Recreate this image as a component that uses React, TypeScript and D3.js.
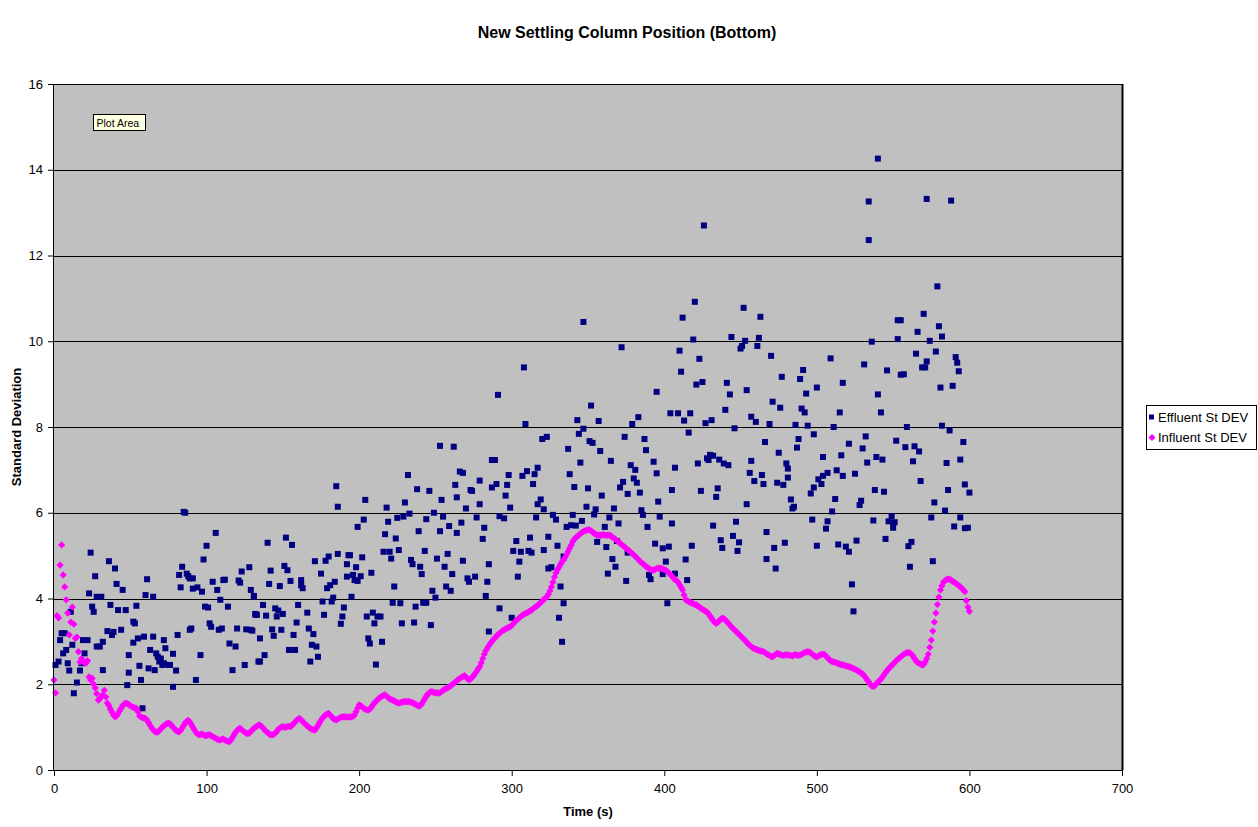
import { useRef, useEffect } from "react";
import * as d3 from "d3";

const chartTitle = "New Settling Column Position (Bottom)";
const xLabel = "Time (s)";
const yLabel = "Standard Deviation";
const seriesNames = ["Effluent St DEV", "Influent St DEV"];
const xTicks = [0, 100, 200, 300, 400, 500, 600, 700];
const yTicks = [0, 2, 4, 6, 8, 10, 12, 14, 16];

// influent st dev, one reading per second starting at t = 0
const influent = [
  2.1, 1.8, 3.6, 3.55, 4.78, 5.25, 4.55, 4.27, 3.97, 3.66,
  3.15, 3.45, 3.8, 3.4, 3.07, 3.1, 2.76, 2.52, 2.6, 2.56,
  2.5, 2.49, 2.55, 2.17, 2.1, 2.14, 2.0, 1.91, 1.78, 1.63,
  1.66, 1.7, 1.75, 1.86, 1.7, 1.56, 1.5, 1.42, 1.35, 1.28,
  1.24, 1.26, 1.32, 1.38, 1.44, 1.5, 1.54, 1.56, 1.55, 1.53,
  1.5, 1.48, 1.46, 1.45, 1.44, 1.36, 1.26, 1.24, 1.22, 1.21,
  1.2, 1.16, 1.1, 1.04, 0.98, 0.94, 0.9, 0.88, 0.88, 0.92,
  0.96, 1.0, 1.03, 1.06, 1.08, 1.09, 1.08, 1.04, 1.0, 0.96,
  0.92, 0.9, 0.89, 0.92, 0.98, 1.04, 1.1, 1.14, 1.16, 1.12,
  1.06, 1.0, 0.94, 0.88, 0.84, 0.82, 0.83, 0.84, 0.82, 0.8,
  0.8, 0.82, 0.82, 0.8, 0.78, 0.76, 0.74, 0.72, 0.7, 0.7,
  0.72, 0.72, 0.7, 0.68, 0.67, 0.66, 0.7, 0.76, 0.82, 0.88,
  0.92, 0.96, 0.97, 0.94, 0.91, 0.88, 0.86, 0.85, 0.86, 0.9,
  0.94, 0.97, 1.0, 1.02, 1.05, 1.05, 1.02, 0.98, 0.94, 0.9,
  0.87, 0.84, 0.82, 0.82, 0.83, 0.86, 0.9, 0.95, 0.98, 1.0,
  1.01, 1.0, 1.0, 1.01, 1.02, 1.01, 1.04, 1.08, 1.12, 1.16,
  1.19, 1.2, 1.17, 1.13, 1.09, 1.06, 1.03, 1.0, 0.97, 0.95,
  0.94, 0.93, 0.98, 1.04, 1.1, 1.16, 1.21, 1.25, 1.28, 1.31,
  1.32, 1.28, 1.24, 1.2, 1.18, 1.17, 1.19, 1.21, 1.23, 1.24,
  1.24, 1.24, 1.24, 1.23, 1.24, 1.24, 1.25, 1.28, 1.36, 1.44,
  1.52, 1.5, 1.47, 1.44, 1.42, 1.4, 1.4, 1.42, 1.46, 1.52,
  1.56, 1.6, 1.64, 1.67, 1.7, 1.72, 1.74, 1.75, 1.72, 1.69,
  1.66, 1.64, 1.63, 1.61, 1.59, 1.57, 1.56, 1.57, 1.58, 1.59,
  1.6, 1.59, 1.6, 1.59, 1.58, 1.57, 1.55, 1.53, 1.51, 1.49,
  1.5, 1.54, 1.6, 1.66, 1.72, 1.77, 1.8, 1.83, 1.82, 1.81,
  1.8, 1.8, 1.79, 1.8, 1.83, 1.86, 1.88, 1.9, 1.92, 1.94,
  1.96, 1.99, 2.02, 2.05, 2.08, 2.11, 2.14, 2.16, 2.18, 2.2,
  2.17, 2.13, 2.1, 2.12, 2.16, 2.2, 2.25, 2.3, 2.36, 2.41,
  2.5, 2.6, 2.7, 2.78, 2.84, 2.9, 2.95, 3.0, 3.04, 3.08,
  3.12, 3.16, 3.19, 3.22, 3.25, 3.27, 3.29, 3.31, 3.33, 3.34,
  3.37, 3.41, 3.45, 3.49, 3.52, 3.55, 3.58, 3.61, 3.63, 3.65,
  3.67, 3.69, 3.71, 3.73, 3.76, 3.79, 3.81, 3.84, 3.87, 3.91,
  3.94, 3.98, 4.01, 4.04, 4.1, 4.18, 4.27, 4.38, 4.5, 4.6,
  4.67, 4.73, 4.8, 4.86, 4.9, 4.96, 5.03, 5.1, 5.18, 5.25,
  5.33, 5.38, 5.42, 5.45, 5.48, 5.51, 5.54, 5.56, 5.58, 5.59,
  5.6, 5.6, 5.58, 5.55, 5.52, 5.5, 5.48, 5.48, 5.47, 5.48,
  5.49, 5.48, 5.47, 5.48, 5.48, 5.46, 5.43, 5.41, 5.38, 5.35,
  5.32, 5.29, 5.26, 5.23, 5.2, 5.17, 5.14, 5.11, 5.08, 5.05,
  5.02, 4.98, 4.95, 4.91, 4.87, 4.84, 4.81, 4.78, 4.75, 4.72,
  4.7, 4.68, 4.66, 4.66, 4.68, 4.7, 4.71, 4.71, 4.7, 4.69,
  4.67, 4.66, 4.63, 4.6, 4.56, 4.52, 4.48, 4.44, 4.42, 4.38,
  4.32, 4.26, 4.2, 4.08, 3.97, 3.95, 3.93, 3.91, 3.89, 3.88,
  3.86, 3.85, 3.82, 3.8, 3.77, 3.75, 3.73, 3.7, 3.69, 3.64,
  3.59, 3.54, 3.49, 3.44, 3.42, 3.44, 3.48, 3.52, 3.54, 3.53,
  3.5, 3.46, 3.42, 3.38, 3.34, 3.3, 3.27, 3.23, 3.2, 3.16,
  3.13, 3.09, 3.06, 3.02, 2.98, 2.94, 2.91, 2.88, 2.85, 2.83,
  2.82, 2.8, 2.79, 2.78, 2.77, 2.76, 2.74, 2.71, 2.69, 2.67,
  2.65, 2.64, 2.67, 2.7, 2.72, 2.71, 2.69, 2.68, 2.67, 2.68,
  2.69, 2.68, 2.68, 2.67, 2.66, 2.68, 2.69, 2.68, 2.67, 2.68,
  2.7, 2.72, 2.74, 2.75, 2.76, 2.75, 2.73, 2.7, 2.67, 2.65,
  2.64, 2.66, 2.68, 2.7, 2.7, 2.69, 2.66, 2.62, 2.58, 2.55,
  2.53, 2.52, 2.51, 2.5, 2.48, 2.47, 2.46, 2.45, 2.44, 2.43,
  2.42, 2.41, 2.4, 2.38, 2.37, 2.35, 2.33, 2.31, 2.29, 2.26,
  2.24, 2.2, 2.15, 2.1, 2.05, 2.0, 1.96, 1.95, 1.97, 2.01,
  2.05, 2.08, 2.12, 2.17, 2.22, 2.27, 2.32, 2.36, 2.4, 2.44,
  2.47, 2.51, 2.55, 2.58, 2.61, 2.64, 2.67, 2.7, 2.72, 2.74,
  2.74, 2.73, 2.7, 2.66, 2.6, 2.54, 2.51, 2.49, 2.47, 2.45,
  2.46, 2.52, 2.6, 2.7, 2.86, 3.03, 3.24, 3.45, 3.66, 3.86,
  4.03, 4.2, 4.3, 4.38, 4.42, 4.44, 4.45, 4.45, 4.43, 4.4,
  4.38, 4.36, 4.33, 4.3, 4.27, 4.24, 4.2, 4.16, 3.95, 3.8,
  3.7,
];

// effluent st dev as [time (s), value]
const effluent: [number, number][] = [
  [1, 2.45], [3, 2.53], [4, 3.03], [5, 3.19], [6, 2.72], [7, 3.19], [8, 2.8], [9, 2.49], [10, 2.32], [11, 3.69],
  [12, 2.92], [13, 1.79], [15, 2.04], [17, 2.32], [18, 2.49], [19, 3.03], [20, 2.72], [22, 3.03], [23, 4.12], [24, 5.07],
  [25, 3.81], [26, 3.69], [27, 4.52], [28, 2.88], [28, 4.04], [30, 2.88], [31, 4.04], [32, 2.33], [32, 2.99], [35, 3.24],
  [36, 4.87], [37, 3.85], [38, 3.15], [39, 3.22], [40, 4.7], [41, 4.34], [42, 3.73], [44, 3.27], [45, 4.2], [47, 3.73],
  [48, 1.98], [49, 2.27], [49, 2.68], [52, 3.46], [52, 2.97], [53, 3.42], [54, 3.83], [55, 3.07], [56, 2.43], [57, 2.1],
  [58, 1.44], [59, 3.11], [60, 4.08], [61, 4.45], [62, 2.37], [63, 2.8], [65, 3.11], [65, 4.04], [66, 2.33], [67, 2.72],
  [68, 2.64], [69, 2.53], [70, 2.6], [71, 2.45], [72, 3.03], [72, 2.49], [73, 2.84], [75, 2.45], [76, 2.45], [78, 2.71],
  [78, 1.94], [80, 2.32], [81, 3.15], [82, 4.55], [83, 4.26], [84, 4.74], [85, 6.02], [86, 6.0], [87, 4.58], [88, 4.52],
  [89, 4.47], [89, 3.27], [90, 3.3], [91, 4.23], [91, 4.47], [93, 2.1], [94, 4.26], [96, 2.68], [97, 4.16], [98, 4.91],
  [99, 3.81], [100, 5.23], [101, 3.79], [102, 3.42], [103, 3.34], [104, 4.39], [106, 5.53], [107, 4.2], [108, 3.27], [109, 3.97],
  [110, 3.3], [111, 4.43], [112, 4.44], [114, 3.81], [115, 2.95], [117, 2.33], [119, 2.88], [120, 3.3], [121, 4.42], [122, 4.37],
  [123, 4.63], [125, 2.45], [126, 3.28], [128, 4.73], [129, 4.2], [129, 3.27], [131, 4.04], [132, 3.62], [134, 2.53],
  [130, 3.25], [131, 4.06], [132, 3.64], [133, 3.62], [135, 3.07], [135, 2.53], [137, 3.85], [138, 2.68], [139, 3.6], [140, 5.3],
  [141, 4.34], [142, 4.65], [143, 3.28], [144, 3.13], [145, 3.77], [146, 3.58], [147, 3.72], [148, 4.29], [149, 3.27], [150, 3.64],
  [151, 4.76], [152, 5.42], [153, 4.66], [154, 2.8], [155, 4.41], [156, 5.25], [157, 3.15], [158, 2.8], [159, 3.44], [160, 3.85],
  [162, 4.43], [162, 4.31], [163, 4.24], [166, 3.67], [167, 3.3], [168, 2.53], [169, 2.92], [170, 3.17], [171, 4.87], [172, 2.88],
  [173, 2.64], [175, 4.58], [176, 3.93], [177, 3.62], [178, 4.88], [179, 4.24], [180, 4.98], [181, 4.31], [182, 3.93], [183, 4.02],
  [184, 4.39], [185, 6.62], [186, 6.14], [186, 5.04], [188, 3.41], [189, 3.58], [190, 3.79], [192, 4.8], [192, 4.51], [193, 5.01],
  [194, 5.01], [195, 4.04], [196, 4.55], [197, 4.43], [198, 4.73], [199, 4.41], [199, 5.67], [201, 4.52], [202, 4.96], [203, 5.84],
  [204, 6.3], [205, 3.58], [206, 3.07], [207, 2.95], [208, 4.6], [209, 3.67], [210, 3.42], [211, 2.46], [212, 3.58], [214, 3.58],
  [215, 2.99], [216, 5.09], [217, 5.5], [218, 6.12], [219, 5.79], [220, 5.09], [221, 4.93], [222, 3.9], [223, 4.28], [224, 5.4],
  [225, 5.88], [226, 5.13], [227, 3.89], [228, 3.42], [229, 5.91], [230, 6.24], [232, 6.88], [233, 5.98], [234, 4.9], [235, 4.8],
  [236, 3.44], [237, 3.81], [238, 6.55], [239, 5.57], [240, 4.74], [241, 4.57], [242, 3.9], [243, 5.11], [244, 3.9], [244, 5.85],
  [246, 6.51], [247, 3.38], [248, 4.18], [249, 6.0], [250, 4.02], [251, 4.93], [253, 5.57], [254, 6.3], [255, 5.91], [256, 4.74],
  [257, 4.28], [258, 5.04], [259, 5.69], [260, 4.18], [261, 4.57], [263, 6.65], [264, 6.36], [264, 5.53], [266, 6.96], [267, 5.77],
  [268, 4.88], [268, 6.93], [270, 6.1], [271, 4.47], [272, 4.39], [273, 6.53],
  [308, 9.39], [291, 8.75], [309, 8.07], [395, 8.82], [352, 8.5], [343, 8.16], [357, 8.14], [347, 7.96], [344, 7.84], [379, 8.07],
  [383, 8.23], [374, 7.77], [387, 7.72], [388, 7.46], [393, 7.19], [395, 6.92], [320, 7.72], [323, 7.77], [351, 7.67], [353, 7.63],
  [358, 7.44], [337, 7.49], [365, 7.21], [253, 7.56], [262, 7.54], [287, 7.23], [289, 7.23], [345, 7.17], [378, 7.11], [317, 7.05],
  [310, 6.97], [381, 7.0], [338, 6.9], [315, 6.9], [307, 6.86], [380, 6.8], [373, 6.72], [382, 6.7], [298, 6.88], [279, 6.75],
  [290, 6.67], [297, 6.65], [314, 6.67], [287, 6.59], [341, 6.6], [371, 6.59], [350, 6.57], [274, 6.51], [384, 6.47], [376, 6.44],
  [296, 6.4], [359, 6.4], [319, 6.31], [396, 6.26], [279, 6.2], [317, 6.2], [299, 6.12], [349, 6.14], [321, 6.08], [355, 6.08],
  [367, 6.1], [385, 6.06], [292, 5.92], [295, 5.87], [277, 5.89], [316, 5.89], [327, 5.95], [329, 5.84], [340, 5.95], [354, 5.96],
  [364, 5.89], [386, 5.95], [397, 5.91], [346, 5.81], [336, 5.67], [339, 5.71], [342, 5.7], [361, 5.67], [370, 5.75], [389, 5.67],
  [282, 5.65], [281, 5.39], [312, 5.42], [324, 5.44], [356, 5.32], [362, 5.2], [369, 5.34], [303, 5.34], [330, 5.23], [394, 5.28],
  [301, 5.11], [306, 5.09], [311, 5.11], [313, 5.07], [321, 5.13], [376, 5.07], [334, 4.98], [305, 4.86], [285, 4.8], [366, 4.92],
  [324, 4.7], [326, 4.73], [304, 4.51], [276, 4.51], [284, 4.39], [368, 4.74], [363, 4.58], [375, 4.41], [390, 4.55], [391, 4.45],
  [332, 4.28], [283, 4.06], [292, 3.77], [300, 3.55], [285, 3.23], [334, 3.89], [331, 3.55], [333, 2.99], [347, 10.45], [372, 9.86],
  [426, 12.7], [420, 10.92], [412, 10.55], [452, 10.78], [463, 10.57], [419, 10.04], [444, 10.1], [453, 10.01], [451, 9.89], [450, 9.83],
  [462, 10.08], [461, 9.89], [470, 9.66], [410, 9.78], [423, 9.59], [411, 9.29], [491, 9.33], [489, 9.12], [477, 9.17], [425, 9.05],
  [421, 8.99], [441, 9.03], [443, 8.76], [454, 8.86], [500, 8.92], [493, 8.78], [471, 8.59], [476, 8.45], [440, 8.4], [490, 8.43],
  [492, 8.34], [404, 8.32], [409, 8.32], [417, 8.32], [413, 8.15], [427, 8.09], [431, 8.16], [416, 7.87], [457, 8.24], [460, 8.12],
  [469, 8.07], [486, 8.05], [494, 8.03], [446, 7.97], [498, 7.83], [488, 7.72], [487, 7.52], [466, 7.65], [475, 7.4], [407, 7.05],
  [422, 7.15], [428, 7.27], [430, 7.35], [432, 7.33], [429, 7.23], [436, 7.24], [439, 7.15], [442, 7.11], [457, 7.21], [456, 6.93],
  [459, 6.74], [464, 6.88], [465, 6.67], [474, 6.7], [478, 6.65], [480, 7.15], [481, 7.03], [481, 6.82], [501, 6.78], [498, 6.59],
  [496, 6.45], [405, 6.53], [424, 6.51], [435, 6.57], [434, 6.37], [454, 6.2], [483, 6.31], [484, 6.1], [485, 6.14], [405, 5.75],
  [432, 5.7], [447, 5.79], [497, 5.84], [467, 5.55], [445, 5.46], [437, 5.36], [449, 5.31], [479, 5.3], [500, 5.23], [399, 5.17],
  [403, 5.21], [418, 5.23], [438, 5.18], [448, 5.11], [472, 5.18], [467, 4.92], [473, 4.7], [414, 4.91], [401, 4.86], [399, 4.57],
  [407, 4.58], [415, 4.43], [402, 3.89],
  [540, 14.26], [534, 13.26], [572, 13.32], [588, 13.28], [534, 12.36], [579, 11.28], [553, 10.49], [555, 10.49], [570, 10.64], [580, 10.35],
  [566, 10.22], [582, 10.11], [553, 10.05], [574, 10.01], [536, 9.99], [578, 9.76], [565, 9.71], [572, 9.53], [569, 9.39], [571, 9.39],
  [591, 9.63], [592, 9.5], [593, 9.3], [509, 9.6], [531, 9.46], [546, 9.32], [555, 9.22], [557, 9.23], [517, 9.03], [581, 8.92],
  [589, 8.96], [540, 8.76], [542, 8.34], [515, 8.34], [511, 8.0], [559, 8.0], [582, 8.03], [587, 7.92], [532, 7.78], [596, 7.65],
  [521, 7.61], [530, 7.5], [552, 7.68], [558, 7.53], [564, 7.55], [567, 7.43], [504, 7.3], [516, 7.34], [539, 7.3], [543, 7.24],
  [533, 7.17], [563, 7.2], [585, 7.16], [594, 7.24], [513, 6.99], [507, 6.93], [504, 6.86], [517, 6.86], [525, 6.91], [503, 6.67],
  [538, 6.53], [544, 6.49], [568, 6.74], [586, 6.53], [597, 6.66], [600, 6.47], [512, 6.32], [529, 6.28], [528, 6.18], [577, 6.24],
  [510, 6.03], [584, 6.05], [507, 5.8], [537, 5.82], [549, 5.92], [547, 5.8], [550, 5.76], [551, 5.78], [575, 5.89], [594, 5.89],
  [506, 5.63], [550, 5.65], [590, 5.68], [597, 5.64], [599, 5.65], [514, 5.26], [519, 5.21], [521, 5.09], [526, 5.35], [545, 5.39],
  [560, 5.22], [562, 5.32], [561, 4.74], [576, 4.87], [523, 4.33], [524, 3.7],
];

const FONT = "Arial, 'Liberation Sans', sans-serif";

export default function App() {
  const svgRef = useRef<SVGSVGElement>(null);

  useEffect(() => {
    if (!svgRef.current) return;
    document.body.style.margin = "0";

    const svg = d3.select(svgRef.current);
    svg.selectAll("*").remove();

    const width = 1258;
    const height = 827;
    const plot = { left: 54, right: 1122, top: 84, bottom: 770 };

    svg.attr("width", width).attr("height", height).attr("viewBox", `0 0 ${width} ${height}`);
    svg.append("rect").attr("width", width).attr("height", height).attr("fill", "#ffffff");

    const x = d3.scaleLinear().domain([0, 700]).range([plot.left, plot.right]);
    const y = d3.scaleLinear().domain([0, 16]).range([plot.bottom, plot.top]);

    // Plot area
    svg
      .append("rect")
      .attr("x", plot.left)
      .attr("y", plot.top)
      .attr("width", plot.right - plot.left)
      .attr("height", plot.bottom - plot.top)
      .attr("fill", "#c0c0c0");

    // Grid lines
    svg
      .append("g")
      .selectAll("line")
      .data(yTicks.filter((d) => d > 0 && d < 16))
      .enter()
      .append("line")
      .attr("x1", plot.left)
      .attr("x2", plot.right)
      .attr("y1", (d) => Math.round(y(d)) + 0.5)
      .attr("y2", (d) => Math.round(y(d)) + 0.5)
      .attr("stroke", "#000000")
      .attr("stroke-width", 1);

    // Border of plot area
    svg
      .append("line")
      .attr("x1", plot.left)
      .attr("x2", plot.right)
      .attr("y1", plot.top + 0.5)
      .attr("y2", plot.top + 0.5)
      .attr("stroke", "#000");
    svg
      .append("line")
      .attr("x1", plot.right + 0.5)
      .attr("x2", plot.right + 0.5)
      .attr("y1", plot.top)
      .attr("y2", plot.bottom)
      .attr("stroke", "#000")
      .attr("stroke-width", 2);

    // Effluent squares
    svg
      .append("g")
      .selectAll("rect")
      .data(effluent)
      .enter()
      .append("rect")
      .attr("x", (d) => x(d[0]) - 3)
      .attr("y", (d) => y(d[1]) - 3)
      .attr("width", 6)
      .attr("height", 6)
      .attr("fill", "#000080");

    // Influent diamonds
    const diamond = "M0,-3.6L3.6,0L0,3.6L-3.6,0Z";
    svg
      .append("g")
      .selectAll("path")
      .data(influent)
      .enter()
      .append("path")
      .attr("d", diamond)
      .attr("transform", (d, i) => `translate(${x(i)},${y(d)})`)
      .attr("fill", "#ff00ff");

    // X axis
    svg
      .append("g")
      .attr("transform", `translate(0, ${plot.bottom})`)
      .call(d3.axisBottom(x).tickValues(xTicks).tickSize(6).tickSizeOuter(0).tickPadding(8))
      .call((g) => g.select(".domain").remove())
      .call((g) => g.selectAll(".tick line").attr("stroke", "#000"))
      .call((g) =>
        g.selectAll(".tick text").attr("fill", "#000").attr("font-size", "13px").attr("font-family", FONT)
      );

    // Y axis
    svg
      .append("g")
      .attr("transform", `translate(${plot.left}, 0)`)
      .call(d3.axisLeft(y).tickValues(yTicks).tickSize(6).tickSizeOuter(0).tickPadding(5))
      .call((g) => g.select(".domain").remove())
      .call((g) => g.selectAll(".tick line").attr("stroke", "#000"))
      .call((g) =>
        g.selectAll(".tick text").attr("fill", "#000").attr("font-size", "13px").attr("font-family", FONT)
      );

    // Axis lines
    svg
      .append("line")
      .attr("x1", plot.left - 0.5)
      .attr("x2", plot.left - 0.5)
      .attr("y1", plot.top)
      .attr("y2", plot.bottom + 1)
      .attr("stroke", "#000");
    svg
      .append("line")
      .attr("x1", plot.left - 1)
      .attr("x2", plot.right + 1)
      .attr("y1", plot.bottom + 0.5)
      .attr("y2", plot.bottom + 0.5)
      .attr("stroke", "#000");

    // Titles
    svg
      .append("text")
      .attr("x", 627)
      .attr("y", 38)
      .attr("text-anchor", "middle")
      .attr("font-family", FONT)
      .attr("font-size", "16px")
      .attr("font-weight", "bold")
      .text(chartTitle);

    svg
      .append("text")
      .attr("x", (plot.left + plot.right) / 2)
      .attr("y", 816)
      .attr("text-anchor", "middle")
      .attr("font-family", FONT)
      .attr("font-size", "13px")
      .attr("font-weight", "bold")
      .text(xLabel);

    svg
      .append("text")
      .attr("transform", `translate(21, ${(plot.top + plot.bottom) / 2}) rotate(-90)`)
      .attr("text-anchor", "middle")
      .attr("font-family", FONT)
      .attr("font-size", "13px")
      .attr("font-weight", "bold")
      .text(yLabel);

    // "Plot Area" tooltip
    const tip = svg.append("g").attr("transform", "translate(93.5, 114.5)");
    tip.append("rect").attr("width", 52).attr("height", 16).attr("fill", "#ffffe1").attr("stroke", "#000");
    tip
      .append("text")
      .attr("x", 3)
      .attr("y", 12)
      .attr("font-family", FONT)
      .attr("font-size", "10.5px")
      .text("Plot Area");

    // Legend
    const legend = svg.append("g").attr("transform", "translate(1146.5, 405.5)");
    legend.append("rect").attr("width", 110).attr("height", 44).attr("fill", "#fff").attr("stroke", "#000");
    legend.append("rect").attr("x", 2.5).attr("y", 9).attr("width", 5).attr("height", 5).attr("fill", "#000080");
    legend.append("path").attr("d", "M0,-3.5L3.5,0L0,3.5L-3.5,0Z").attr("transform", "translate(5.5, 32)").attr("fill", "#ff00ff");
    legend
      .selectAll("text")
      .data(seriesNames)
      .enter()
      .append("text")
      .attr("x", 11.5)
      .attr("y", (d, i) => 16.5 + i * 20)
      .attr("font-family", FONT)
      .attr("font-size", "13px")
      .text((d) => d);
  }, []);

  return <svg ref={svgRef} style={{ display: "block" }} />;
}
